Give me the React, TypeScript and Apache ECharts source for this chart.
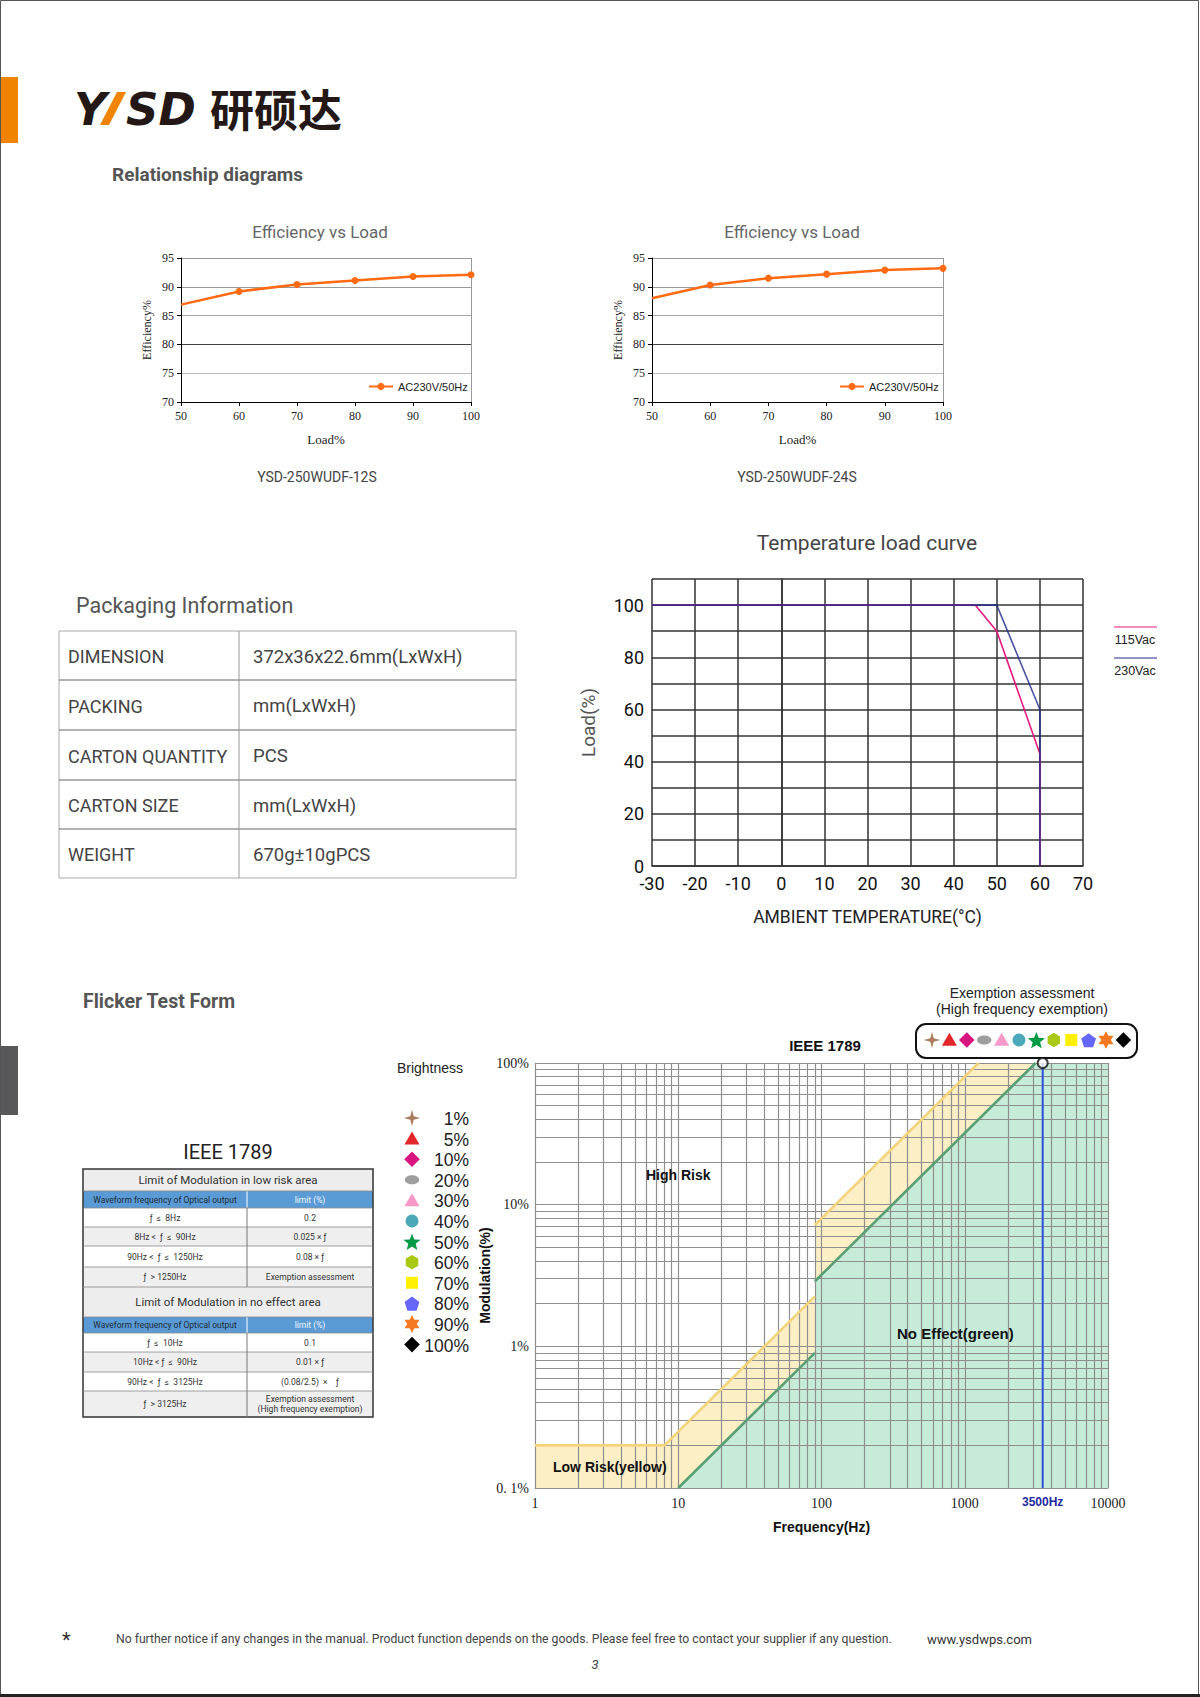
import React, { useEffect, useRef } from "react";
import * as echarts from "echarts";

// ---------- data ----------
const loadPct = [50, 60, 70, 80, 90, 100];
const eff12S = [86.9, 89.2, 90.4, 91.1, 91.8, 92.1];
const eff24S = [88.0, 90.3, 91.5, 92.2, 92.9, 93.2];

const temp115 = [-30, 45, 50, 60, 60];
const load115 = [100, 100, 90, 43, 0];
const temp230 = [-30, 50, 60, 60];
const load230 = [100, 100, 60, 0];

const lowRiskF = [1, 8, 90, 90, 1250, 10000];
const lowRiskM = [0.2, 0.2, 2.25, 7.2, 100, 100];
const noEffF = [10, 90, 90, 3125, 10000];
const noEffM = [0.1, 0.9, 2.88, 100, 100];
const exemptionF = 3500;
const freqLabels = [1, 10, 100, 1000, 3500, 10000];

const packLabels = ["DIMENSION", "PACKING", "CARTON QUANTITY", "CARTON SIZE", "WEIGHT"];
const packValues = ["372x36x22.6mm(LxWxH)", "mm(LxWxH)", "PCS", "mm(LxWxH)", "670g±10gPCS"];

const ieeeLowTitle = "Limit of Modulation in low risk area";
const ieeeNoTitle = "Limit of Modulation in no effect area";
const ieeeHeader = ["Waveform frequency of Optical output", "limit (%)"];
const ieeeLowRows = [
  ["ƒ  ≤  8Hz", "0.2"],
  ["8Hz <  ƒ  ≤  90Hz", "0.025 × ƒ"],
  ["90Hz <  ƒ  ≤  1250Hz", "0.08 × ƒ"],
  ["ƒ  > 1250Hz", "Exemption assessment"],
];
const ieeeNoRows = [
  ["ƒ  ≤  10Hz", "0.1"],
  ["10Hz < ƒ  ≤  90Hz", "0.01 × ƒ"],
  ["90Hz <  ƒ  ≤  3125Hz", "(0.08/2.5)  ×    ƒ"],
  ["ƒ  > 3125Hz", "Exemption assessment\n(High frequency exemption)"],
];

const brightLabels = ["1%", "5%", "10%", "20%", "30%", "40%", "50%", "60%", "70%", "80%", "90%", "100%"];
const brightKinds = ["star4", "triangle", "diamond", "ellipse", "triangle", "circle", "star5", "hexagon", "square", "pentagon", "star6", "diamond"];
const brightColors = ["#A97C5E", "#E2262B", "#D9157F", "#9E9E9E", "#F59AC8", "#4AA8B8", "#009944", "#A9C914", "#FFF100", "#6565FF", "#F47920", "#000000"];

// ---------- style helpers ----------
const DIN = "Roboto, 'Noto Sans', sans-serif";
const SERIF = "'Liberation Serif', 'DejaVu Serif', serif";
const ARIAL = "'Liberation Sans', Arial, sans-serif";

function T(text: string, x: number, y: number, o: any = {}) {
  return {
    type: "text",
    x,
    y,
    silent: true,
    rotation: o.rot || 0,
    z: 10,
    style: {
      text,
      fill: o.fill || "#333",
      fontSize: o.size || 12,
      fontFamily: o.family || DIN,
      fontWeight: o.weight || "normal",
      fontStyle: o.style || "normal",
      textAlign: o.align || "left",
      textVerticalAlign: o.valign || "middle",
      lineHeight: o.lh || undefined,
    },
  };
}
function L(x1: number, y1: number, x2: number, y2: number, stroke: string, w = 1) {
  return { type: "line", silent: true, z: 5, shape: { x1, y1, x2, y2 }, style: { stroke, lineWidth: w } };
}
function R(x: number, y: number, w: number, h: number, style: any, r = 0) {
  return { type: "rect", silent: true, z: 4, shape: { x, y, width: w, height: h, r }, style };
}
function regPoly(n: number, cx: number, cy: number, r: number, rot = -Math.PI / 2) {
  const pts: number[][] = [];
  for (let i = 0; i < n; i++) {
    const a = rot + (i * 2 * Math.PI) / n;
    pts.push([cx + r * Math.cos(a), cy + r * Math.sin(a)]);
  }
  return pts;
}
function starPts(n: number, cx: number, cy: number, R1: number, r1: number) {
  const pts: number[][] = [];
  for (let i = 0; i < 2 * n; i++) {
    const a = -Math.PI / 2 + (i * Math.PI) / n;
    const rr = i % 2 === 0 ? R1 : r1;
    pts.push([cx + rr * Math.cos(a), cy + rr * Math.sin(a)]);
  }
  return pts;
}
function symbolEl(kind: string, cx: number, cy: number, s: number, color: string) {
  const st = { fill: color };
  const poly = (points: number[][]) => ({ type: "polygon", silent: true, z: 6, shape: { points }, style: st });
  switch (kind) {
    case "star4":
      return poly(starPts(4, cx, cy, s * 0.55, s * 0.16));
    case "triangle":
      return poly(regPoly(3, cx, cy + s * 0.1, s * 0.58));
    case "diamond":
      return poly(regPoly(4, cx, cy, s * 0.52));
    case "ellipse":
      return { type: "ellipse", silent: true, z: 6, shape: { cx, cy, rx: s * 0.48, ry: s * 0.3 }, style: st };
    case "circle":
      return { type: "circle", silent: true, z: 6, shape: { cx, cy, r: s * 0.43 }, style: st };
    case "star5":
      return poly(starPts(5, cx, cy + 1, s * 0.6, s * 0.26));
    case "hexagon":
      return poly(regPoly(6, cx, cy, s * 0.48));
    case "square":
      return { type: "rect", silent: true, z: 6, shape: { x: cx - s * 0.4, y: cy - s * 0.4, width: s * 0.8, height: s * 0.8 }, style: st };
    case "pentagon":
      return poly(regPoly(5, cx, cy + 1, s * 0.52));
    case "star6":
      return poly(starPts(6, cx, cy, s * 0.58, s * 0.32));
  }
  return poly(regPoly(4, cx, cy, s * 0.5));
}

// grid-line values for the log chart
const freqGrid: number[] = [];
[1, 10, 100, 1000].forEach((d) => {
  for (let k = 1; k <= 9; k++) freqGrid.push(k * d);
});
freqGrid.push(10000);
const modGrid: number[] = [];
[0.1, 1, 10].forEach((d) => {
  for (let k = 1; k <= 9; k++) modGrid.push(+(k * d).toPrecision(3));
});
modGrid.push(100);

function buildGraphics() {
  const g: any[] = [];
  // page frame
  g.push(R(0.5, 0.5, 1198, 1695, { fill: "none", stroke: "#555", lineWidth: 1 }));
  g.push(L(0, 1695.5, 1200, 1695.5, "#222", 3));
  // side bars
  g.push(R(1, 77, 17, 66, { fill: "#F08300" }));
  g.push(R(1, 1046, 17, 69, { fill: "#58585A" }));
  // logo
  g.push(T("Y", 74, 109, { size: 45, weight: 900, style: "italic", family: "'DejaVu Sans', sans-serif", fill: "#231815" }));
  g.push({ type: "polygon", silent: true, z: 6, shape: { points: [[117, 92], [126, 92], [109, 125], [100, 125]] }, style: { fill: "#F08300" } });
  g.push(T("SD", 126, 109, { size: 45, weight: 900, style: "italic", family: "'DejaVu Sans', sans-serif", fill: "#231815" }));
  g.push(T("研硕达", 210, 108, { size: 44, weight: "bold", family: "'Noto Sans CJK SC', sans-serif", fill: "#231815" }));
  g.push(T("Relationship diagrams", 112, 174, { size: 19, weight: "bold", fill: "#555" }));

  // efficiency titles and captions
  g.push(T("Efficiency vs Load", 320, 232, { size: 17, fill: "#666", align: "center" }));
  g.push(T("Efficiency vs Load", 792, 232, { size: 17, fill: "#666", align: "center" }));
  g.push(T("YSD-250WUDF-12S", 317, 477, { size: 14, fill: "#444", align: "center" }));
  g.push(T("YSD-250WUDF-24S", 797, 477, { size: 14, fill: "#444", align: "center" }));

  // temperature
  g.push(T("Temperature load curve", 867, 543, { size: 21, fill: "#444", align: "center" }));
  g.push(L(1114, 627, 1157, 627, "#E5197F", 1.2));
  g.push(T("115Vac", 1135, 640, { size: 12.5, fill: "#222", align: "center", family: ARIAL }));
  g.push(L(1114, 658, 1157, 658, "#1E2A8A", 1.2));
  g.push(T("230Vac", 1135, 671, { size: 12.5, fill: "#222", align: "center", family: ARIAL }));

  // packaging table
  g.push(T("Packaging Information", 76, 605, { size: 21.5, fill: "#555" }));
  const py = [631, 680, 730, 780, 829, 878];
  for (let i = 0; i < packLabels.length; i++) {
    const mid = (py[i] + py[i + 1]) / 2 + 1;
    g.push(T(packLabels[i], 68, mid, { size: 18, fill: "#444" }));
    g.push(T(packValues[i], 253, mid, { size: 18.5, fill: "#444" }));
  }
  g.push(R(59, 631, 457, 247, { fill: "none", stroke: "#aaa", lineWidth: 1 }));
  for (let i = 1; i < py.length - 1; i++) g.push(L(59, py[i], 516, py[i], "#666", 1));
  g.push(L(239, 631, 239, 878, "#999", 1));

  // flicker section
  g.push(T("Flicker Test Form", 83, 1001, { size: 19.5, weight: "bold", fill: "#555" }));
  g.push(T("IEEE 1789", 228, 1152, { size: 20, fill: "#222", align: "center" }));
  const ty = [1169, 1191, 1208, 1227, 1246, 1267, 1287, 1317, 1333, 1352, 1372, 1391, 1417];
  const tl = 83, tr = 373, tc = 247;
  const rowsDef: any[] = [];
  rowsDef.push({ kind: "title", text: ieeeLowTitle });
  rowsDef.push({ kind: "header" });
  ieeeLowRows.forEach((r, i) => rowsDef.push({ kind: "row", cells: r, alt: i % 2 === 1 }));
  rowsDef.push({ kind: "title", text: ieeeNoTitle });
  rowsDef.push({ kind: "header" });
  ieeeNoRows.forEach((r, i) => rowsDef.push({ kind: "row", cells: r, alt: i % 2 === 1 }));
  rowsDef.forEach((rd, i) => {
    const y0 = ty[i], y1 = ty[i + 1], mid = (y0 + y1) / 2;
    if (rd.kind === "title") {
      g.push(R(tl, y0, tr - tl, y1 - y0, { fill: "#EDEDED" }));
      g.push(T(rd.text, (tl + tr) / 2, mid, { size: 11.5, fill: "#333", align: "center" }));
    } else if (rd.kind === "header") {
      g.push(R(tl, y0, tr - tl, y1 - y0, { fill: "#5B9BD5" }));
      g.push(T(ieeeHeader[0], (tl + tc) / 2, mid, { size: 8.5, fill: "#1d2b3a", align: "center" }));
      g.push(T(ieeeHeader[1], (tc + tr) / 2, mid, { size: 8.5, fill: "#eef4fb", align: "center" }));
      g.push(L(tc, y0, tc, y1, "#fff", 1));
    } else {
      g.push(R(tl, y0, tr - tl, y1 - y0, { fill: rd.alt ? "#EFEFEF" : "#FFFFFF" }));
      g.push(T(rd.cells[0], (tl + tc) / 2, mid, { size: 8.5, fill: "#333", align: "center" }));
      g.push(T(rd.cells[1], (tc + tr) / 2, mid, { size: 8.5, fill: "#333", align: "center", lh: 10 }));
      g.push(L(tc, y0, tc, y1, "#777", 1));
    }
    if (i > 0) g.push(L(tl, y0, tr, y0, "#888", 0.8));
  });
  g.push(R(tl, ty[0], tr - tl, ty[ty.length - 1] - ty[0], { fill: "none", stroke: "#333", lineWidth: 1.5 }));

  // brightness legend
  g.push(T("Brightness", 430, 1068, { size: 14, fill: "#222", align: "center", family: ARIAL }));
  brightLabels.forEach((lab, i) => {
    const y = 1118 + i * 20.6;
    g.push(symbolEl(brightKinds[i], 412, y, 15, brightColors[i]));
    g.push(T(lab, 469, y + 1, { size: 17.5, fill: "#222", align: "right", family: ARIAL }));
  });

  // chart texts
  g.push(T("IEEE 1789", 825, 1045, { size: 15, weight: "bold", fill: "#111", align: "center", family: ARIAL }));
  g.push(T("High Risk", 646, 1175, { size: 14, weight: "bold", fill: "#111", family: ARIAL }));
  g.push(T("No Effect(green)", 897, 1333, { size: 15, weight: "bold", fill: "#111", family: ARIAL }));
  g.push(T("Low Risk(yellow)", 553, 1467, { size: 14, weight: "bold", fill: "#111", family: ARIAL }));
  g.push(T("Exemption assessment", 1022, 993, { size: 14, fill: "#222", align: "center", family: ARIAL }));
  g.push(T("(High frequency exemption)", 1022, 1009, { size: 14, fill: "#222", align: "center", family: ARIAL }));
  g.push(R(916, 1024, 221, 34, { fill: "#fff", stroke: "#111", lineWidth: 2 }, 10));
  brightKinds.forEach((k, i) => g.push(symbolEl(k, 932 + i * 17.4, 1040, 15, brightColors[i])));

  // footer
  g.push(T("*", 62, 1640, { size: 20, fill: "#333" }));
  g.push(T("No further notice if any changes in the manual. Product function depends on the goods. Please feel free to contact your supplier if any question.", 116, 1639, { size: 12.2, fill: "#444" }));
  g.push(T("www.ysdwps.com", 927, 1639, { size: 13, fill: "#333" }));
  g.push(T("3", 595, 1664, { size: 13, fill: "#444", style: "italic", align: "center" }));
  return g;
}

function effAxes(gi: number) {
  return {
    x: {
      type: "value", gridIndex: gi, min: 50, max: 100, interval: 10,
      name: "Load%", nameLocation: "middle", nameGap: 31,
      nameTextStyle: { fontFamily: SERIF, fontSize: 13, color: "#222" },
      axisLine: { lineStyle: { color: "#000", width: 1 } },
      axisTick: { show: true, length: 4, lineStyle: { color: "#000" } },
      axisLabel: { fontFamily: SERIF, fontSize: 12, color: "#222", margin: 8 },
      splitLine: { show: true, lineStyle: { color: ["rgba(0,0,0,0)", "rgba(0,0,0,0)", "rgba(0,0,0,0)", "rgba(0,0,0,0)", "rgba(0,0,0,0)", "#999"] } },
    },
    y: {
      type: "value", gridIndex: gi, min: 70, max: 95, interval: 5,
      name: "Efficiency%", nameLocation: "middle", nameGap: 28,
      nameTextStyle: { fontFamily: SERIF, fontSize: 12, color: "#222" },
      axisLine: { show: true, lineStyle: { color: "#000", width: 1 } },
      axisTick: { show: true, length: 4, lineStyle: { color: "#000" } },
      axisLabel: { fontFamily: SERIF, fontSize: 12, color: "#222", margin: 7 },
      splitLine: { show: true, lineStyle: { color: ["#333", "#bbb", "#444", "#aaa", "#999", "#999"], width: 1.2 } },
    },
  };
}

function buildOption() {
  const e0 = effAxes(0), e1 = effAxes(1);
  const effSeries = (gi: number, vals: number[]) => ({
    type: "line", name: "AC230V/50Hz", xAxisIndex: gi, yAxisIndex: gi,
    data: loadPct.map((x, i) => (i === 0 ? { value: [x, vals[i]], symbol: "none" } : [x, vals[i]])),
    color: "#FF6A13", lineStyle: { color: "#FF6A13", width: 2.5 },
    itemStyle: { color: "#FF6A13" }, symbol: "circle", symbolSize: 7, z: 5,
  });
  const seg = (xs: number[], ys: number[], a: number, b: number) => {
    const out: number[][] = [];
    for (let i = a; i <= b; i++) out.push([xs[i], ys[i]]);
    return out;
  };
  const lineSeg = (data: number[][], color: string) => ({
    type: "line", xAxisIndex: 3, yAxisIndex: 3, data, symbol: "none",
    lineStyle: { color, width: 2.6 }, z: 6, silent: true,
  });
  const tempAxisLabel = { fontFamily: DIN, fontSize: 18, color: "#111", margin: 8 };
  return {
    animation: false,
    backgroundColor: "#fff",
    grid: [
      { left: 181, top: 258, width: 290, height: 144, outerBoundsMode: "none" },
      { left: 652, top: 258, width: 291, height: 144, outerBoundsMode: "none" },
      { left: 652, top: 579, width: 431, height: 287, outerBoundsMode: "none" },
      { left: 535, top: 1063, width: 573, height: 425, outerBoundsMode: "none" },
    ],
    legend: [
      { data: ["AC230V/50Hz"], left: 363, top: 376, itemWidth: 24, itemHeight: 9, selectedMode: false, textStyle: { fontFamily: ARIAL, fontSize: 11, color: "#222" } },
      { data: ["AC230V/50Hz"], left: 834, top: 376, itemWidth: 24, itemHeight: 9, selectedMode: false, textStyle: { fontFamily: ARIAL, fontSize: 11, color: "#222" } },
    ],
    xAxis: [
      e0.x, e1.x,
      {
        type: "value", gridIndex: 2, min: -30, max: 70, interval: 10,
        name: "AMBIENT TEMPERATURE(°C)", nameLocation: "middle", nameGap: 42,
        nameTextStyle: { fontFamily: DIN, fontSize: 17.5, color: "#222" },
        axisLine: { lineStyle: { color: "#333", width: 1.5 } },
        axisTick: { show: false }, axisLabel: tempAxisLabel,
        splitLine: { show: true, lineStyle: { color: "#333", width: 1.5 } },
      },
      {
        type: "log", logBase: 10, gridIndex: 3, min: 1, max: 10000,
        name: "Frequency(Hz)", nameLocation: "middle", nameGap: 32,
        nameTextStyle: { fontFamily: ARIAL, fontSize: 14, fontWeight: "bold", color: "#111" },
        axisLine: { lineStyle: { color: "#999", width: 1 } },
        axisTick: { show: false }, splitLine: { show: false },
        axisLabel: {
          customValues: freqLabels, fontFamily: SERIF, fontSize: 14, color: "#222", margin: 8,
          formatter: (v: number) => (Math.round(v) === exemptionF ? "{b|3500Hz}" : String(Math.round(v))),
          rich: { b: { color: "#1B2A9F", fontWeight: "bold", fontFamily: ARIAL, fontSize: 12 } },
        },
      },
    ],
    yAxis: [
      e0.y, e1.y,
      {
        type: "value", gridIndex: 2, min: 0, max: 110, interval: 10,
        name: "Load(%)", nameLocation: "middle", nameGap: 54,
        nameTextStyle: { fontFamily: DIN, fontSize: 19, color: "#555" },
        axisLine: { show: true, lineStyle: { color: "#333", width: 1.5 } },
        axisTick: { show: false },
        axisLabel: { ...tempAxisLabel, formatter: (v: number) => (v % 20 === 0 && v <= 100 ? String(v) : "") },
        splitLine: { show: true, lineStyle: { color: "#333", width: 1.5 } },
      },
      {
        type: "log", logBase: 10, gridIndex: 3, min: 0.1, max: 100,
        name: "Modulation(%)", nameLocation: "middle", nameGap: 26,
        nameTextStyle: { fontFamily: ARIAL, fontSize: 14, fontWeight: "bold", color: "#111" },
        axisLine: { show: true, lineStyle: { color: "#999", width: 1 } },
        axisTick: { show: false }, splitLine: { show: false },
        axisLabel: {
          fontFamily: SERIF, fontSize: 14, color: "#222", margin: 6,
          formatter: (v: number) => {
            const n = +(+v).toPrecision(3);
            return n === 0.1 ? "0. 1%" : n + "%";
          },
        },
      },
    ],
    series: [
      effSeries(0, eff12S),
      effSeries(1, eff24S),
      {
        type: "line", name: "115Vac", xAxisIndex: 2, yAxisIndex: 2, symbol: "none",
        data: temp115.map((x, i) => [x, load115[i]]),
        lineStyle: { color: "#E5197F", width: 1.6 }, z: 5,
      },
      {
        type: "line", name: "230Vac", xAxisIndex: 2, yAxisIndex: 2, symbol: "none",
        data: temp230.map((x, i) => [x, load230[i]]),
        lineStyle: { color: "#1E2A8A", width: 1.6, opacity: 0.8 }, z: 6,
      },
      {
        type: "line", xAxisIndex: 3, yAxisIndex: 3, symbol: "none", silent: true,
        data: lowRiskF.map((x, i) => [x, lowRiskM[i]]),
        lineStyle: { width: 0 }, areaStyle: { color: "#FCEFC6", opacity: 1, origin: "start" }, z: 1,
      },
      {
        type: "line", xAxisIndex: 3, yAxisIndex: 3, symbol: "none", silent: true,
        data: noEffF.map((x, i) => [x, noEffM[i]]),
        lineStyle: { width: 0 }, areaStyle: { color: "#C6ECD9", opacity: 1, origin: "start" }, z: 2,
      },
      {
        type: "line", xAxisIndex: 3, yAxisIndex: 3, symbol: "none", silent: true,
        data: [[1, 0.1]], lineStyle: { width: 0 }, z: 3,
        markLine: {
          silent: true, symbol: ["none", "none"], label: { show: false },
          lineStyle: { color: "#8f8f8f", width: 1.2, type: "solid" },
          data: [...freqGrid.map((f) => ({ xAxis: f })), ...modGrid.map((m) => ({ yAxis: m }))],
        },
      },
      lineSeg(seg(lowRiskF, lowRiskM, 0, 2), "#F3D37C"),
      lineSeg(seg(lowRiskF, lowRiskM, 3, 4), "#F3D37C"),
      lineSeg(seg(noEffF, noEffM, 0, 1), "#5A9F74"),
      lineSeg(seg(noEffF, noEffM, 2, 3), "#5A9F74"),
      {
        type: "line", xAxisIndex: 3, yAxisIndex: 3, symbol: "none", silent: true,
        data: [[exemptionF, 0.1], [exemptionF, 100]],
        lineStyle: { color: "#2E4FD6", width: 2 }, z: 7,
      },
      {
        type: "scatter", xAxisIndex: 3, yAxisIndex: 3, silent: true,
        data: [[exemptionF, 100]], symbol: "circle", symbolSize: 10,
        itemStyle: { color: "#fff", borderColor: "#111", borderWidth: 2 }, z: 8,
      },
    ],
    graphic: { elements: buildGraphics() },
  };
}

export default function App() {
  const ref = useRef<HTMLDivElement>(null);
  useEffect(() => {
    if (!ref.current) return;
    const chart = echarts.init(ref.current, undefined, { renderer: "svg" });
    chart.setOption(buildOption() as any);
    return () => chart.dispose();
  }, []);
  return (
    <div
      ref={ref}
      style={{ position: "absolute", left: 0, top: 0, width: 1200, height: 1697, background: "#fff" }}
    />
  );
}
